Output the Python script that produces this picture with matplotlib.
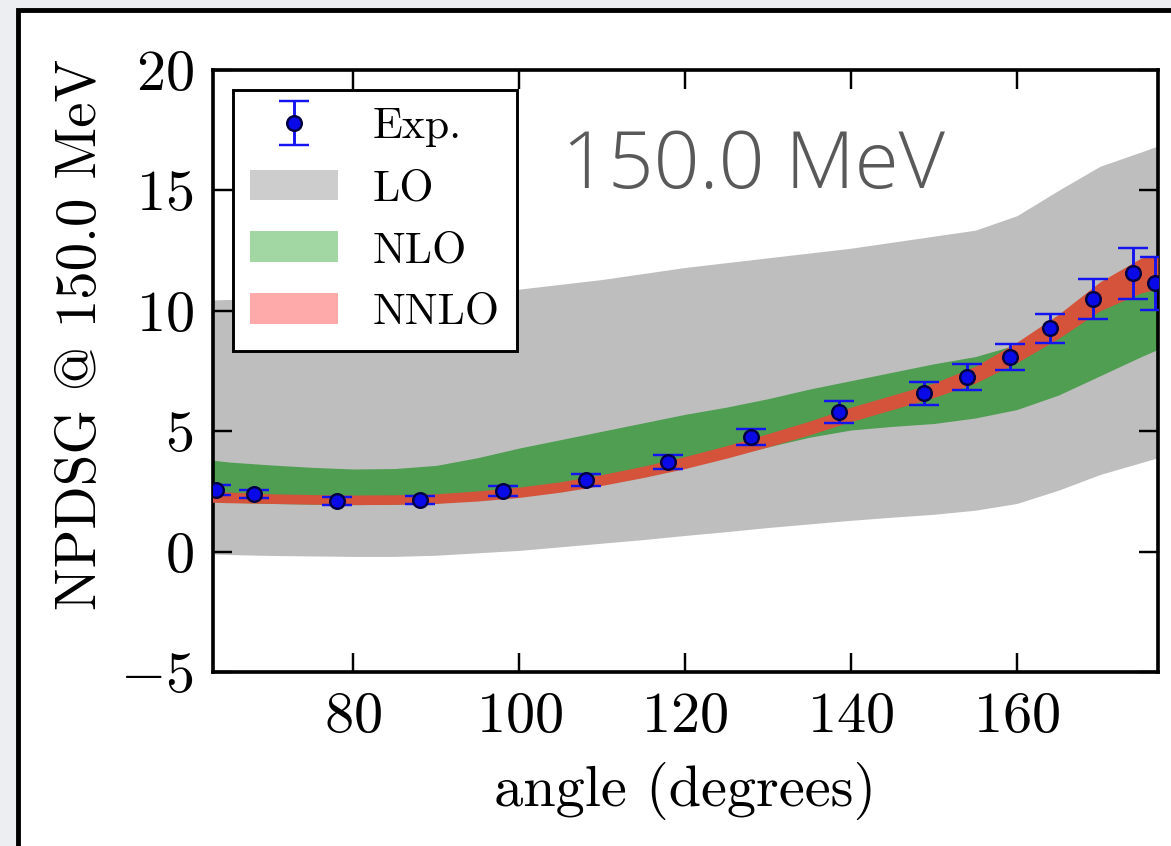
import matplotlib
matplotlib.use("Agg")
import matplotlib.pyplot as plt
from matplotlib.patches import Patch, Rectangle

# ---- experimental points ----
exp_angle = [63.5, 68.0, 78.0, 88.0, 98.0, 108.0, 118.0, 128.0, 138.5, 148.8,
             154.0, 159.2, 164.0, 169.2, 174.0, 176.6]
exp_value = [2.56, 2.39, 2.09, 2.13, 2.51, 2.97, 3.72, 4.76, 5.80, 6.58,
             7.25, 8.10, 9.28, 10.50, 11.55, 11.15]
exp_error = [0.20, 0.18, 0.17, 0.17, 0.20, 0.24, 0.28, 0.35, 0.45, 0.48,
             0.52, 0.54, 0.60, 0.82, 1.07, 1.10]

# ---- theory bands (lower / upper edge) ----
theory_angle = [63, 65, 70, 75, 80, 85, 90, 95, 100, 105, 110, 115, 120, 125,
                130, 135, 140, 145, 150, 155, 160, 165, 170, 175, 177]
lo_low = [-0.10, -0.12, -0.16, -0.18, -0.20, -0.20, -0.15, -0.05, 0.05, 0.20, 0.35, 0.50, 0.67,
          0.83, 1.00, 1.15, 1.30, 1.43, 1.55, 1.72, 2.00, 2.55, 3.20, 3.70, 3.90]
lo_high = [10.45, 10.47, 10.50, 10.55, 10.60, 10.65, 10.72, 10.80, 10.90, 11.10, 11.30, 11.55, 11.80,
           12.00, 12.20, 12.40, 12.60, 12.85, 13.10, 13.35, 13.95, 15.00, 16.00, 16.60, 16.85]
nlo_low = [2.10, 2.05, 2.00, 1.97, 1.95, 1.97, 2.02, 2.15, 2.30, 2.55, 2.85, 3.20, 3.55,
           3.95, 4.35, 4.75, 5.05, 5.20, 5.32, 5.55, 5.90, 6.50, 7.30, 8.10, 8.40]
nlo_high = [3.80, 3.72, 3.60, 3.50, 3.43, 3.45, 3.58, 3.90, 4.30, 4.65, 5.00, 5.35, 5.70,
            6.00, 6.35, 6.75, 7.10, 7.45, 7.80, 8.10, 8.60, 9.40, 10.30, 11.00, 11.20]
nnlo_low = [2.05, 2.03, 2.00, 1.97, 1.95, 1.96, 2.00, 2.10, 2.25, 2.47, 2.75, 3.08, 3.45,
            3.88, 4.35, 4.85, 5.40, 5.90, 6.40, 7.00, 7.85, 8.85, 10.00, 10.75, 10.90]
nnlo_high = [2.50, 2.47, 2.40, 2.37, 2.35, 2.36, 2.40, 2.52, 2.68, 2.90, 3.20, 3.55, 3.95,
             4.40, 4.90, 5.42, 6.00, 6.50, 7.00, 7.70, 8.70, 9.85, 11.20, 12.20, 12.30]

x_ticks = [80, 100, 120, 140, 160]
y_ticks = [-5, 0, 5, 10, 15, 20]

LO_GRAY = "#bebebe"
NLO_GREEN = "#4f9e52"
NNLO_RED = "#d4533a"
EXP_BLUE = "#1414f0"

plt.rcParams.update({
    "font.family": ["cmr10", "DejaVu Serif"],
    "mathtext.fontset": "cm",
    "axes.formatter.use_mathtext": True,
    "font.size": 12,
    "axes.linewidth": 0.75,
    "xtick.direction": "in",
    "ytick.direction": "in",
    "xtick.major.size": 4,
    "ytick.major.size": 4,
    "xtick.major.width": 0.5,
    "ytick.major.width": 0.5,
    "xtick.major.pad": 4,
    "ytick.major.pad": 4,
    "xtick.top": True,
    "ytick.right": True,
})

DPI = 350
fig = plt.figure(figsize=(1171 / DPI, 846 / DPI), dpi=DPI, facecolor="#eceef2")
# white page with black border behind the plot
fig.patches.append(Rectangle((18 / 1171, -0.2), 1.2, 1.2 - 10 / 846, transform=fig.transFigure,
                             facecolor="white", edgecolor="black", linewidth=1.0, zorder=-1))

ax = fig.add_axes([213 / 1171, 1 - 672 / 846, (1158 - 213) / 1171, (672 - 70) / 846])
ax.set_facecolor("white")

ax.fill_between(theory_angle, lo_low, lo_high, color=LO_GRAY, linewidth=0, zorder=1)
ax.fill_between(theory_angle, nlo_low, nlo_high, color=NLO_GREEN, linewidth=0, zorder=2)
ax.fill_between(theory_angle, nnlo_low, nnlo_high, color=NNLO_RED, linewidth=0, zorder=3)
err = ax.errorbar(exp_angle, exp_value, yerr=exp_error, fmt="o", color=EXP_BLUE,
                  mfc="#0a0ae8", mec="#000040", mew=0.5, ms=3,
                  elinewidth=0.6, capsize=3, capthick=0.6, zorder=4)

ax.set_xlim(63.1, 177.0)
ax.set_ylim(-5, 20)
ax.set_xticks(x_ticks)
ax.set_yticks(y_ticks)
ax.set_xlabel("angle (degrees)")
ax.set_ylabel("NPDSG @ 150.0 MeV", fontsize=11.7)
ax.yaxis.set_label_coords(-0.112, 0.56)

handles = [err,
           Patch(facecolor="#cdcdcd", edgecolor="none"),
           Patch(facecolor="#a2d6a2", edgecolor="none"),
           Patch(facecolor="#ffaaaa", edgecolor="none")]
leg = ax.legend(handles, ["Exp.", "LO", "NLO", "NNLO"], loc="upper left",
                fontsize=9, fancybox=False, framealpha=1.0, borderaxespad=0.45,
                handlelength=2.0, handletextpad=0.8, borderpad=0.4, labelspacing=0.5)
leg.get_frame().set_edgecolor("black")
leg.get_frame().set_linewidth(0.6)
leg.set_zorder(10)

fig.text(562 / 1171, 1 - 188 / 846, "150.0 MeV", family="Open Sans", fontweight=300,
         fontsize=16.5, color="#595959", ha="left", va="baseline")

fig.savefig("out.png", dpi=DPI, facecolor=fig.get_facecolor())
